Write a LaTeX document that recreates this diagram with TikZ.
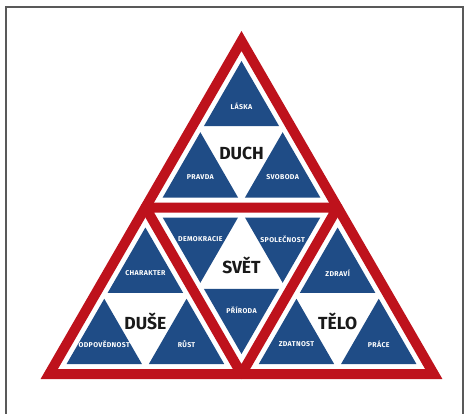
\documentclass[tikz,border=0pt]{standalone}
\usepackage{fontspec}
\setmainfont{Fira Sans}
\usepackage{tikz}
\usetikzlibrary{calc}
\definecolor{pyrred}{RGB}{190,18,28}
\definecolor{pyrblue}{RGB}{31,76,134}
% one blue corner triangle: #1 x, #2 y of its centre, #3 = 1 up, -1 down
\newcommand{\cornertri}[3]{%
  \fill[blue tri] ({#1},{#2-(#3)*43.5}) -- ({#1-37.67},{#2+(#3)*21.75})
    -- ({#1+37.67},{#2+(#3)*21.75}) -- cycle;}

\begin{document}
\begin{tikzpicture}[x=1pt,y=-1pt,
    red line/.style={draw=pyrred,line width=10pt},
    blue tri/.style={fill=pyrblue},
    small label/.style={text=white,font=\fontsize{7}{7}\selectfont\bfseries\addfontfeatures{LetterSpace=5},inner sep=0pt},
    big label/.style={text=black!90,font=\fontsize{17.5}{17.5}\selectfont\bfseries,inner sep=0pt}]
  \useasboundingbox (0,0) rectangle (468,414);
  \draw[line width=1.3pt,color=black!65] (6,414) -- (6,7) -- (463,7) -- (463,414);

  \coordinate (A) at (241.5,41);
  \coordinate (B) at (49.25,374);
  \coordinate (C) at (433.75,374);
  \coordinate (P) at (145.4,207.5);
  \coordinate (Q) at (337.6,207.5);
  \coordinate (R) at (241.5,374);

  % red frame
  \draw[red line,line join=miter] (A) -- (B) -- (C) -- cycle;
  \draw[red line,line join=round] (P) -- (Q) -- (R) -- cycle;

  % DUCH
  \cornertri{241.5}{104.5}{1}
  \cornertri{200.36}{175.75}{1}
  \cornertri{282.64}{175.75}{1}
  \node[big label] (duch) at (241.5,153) {DUCH};
  \node[small label] (laska) at (241.5,106) {LÁSKA};
  \node[small label] (pravda) at (200.36,177) {PRAVDA};
  \node[small label] (svoboda) at (282.64,177) {SVOBODA};

  % DUŠE
  \cornertri{145.4}{271}{1}
  \cornertri{104.26}{342.25}{1}
  \cornertri{186.54}{342.25}{1}
  \node[big label] (duse) at (145.4,321) {DUŠE};
  \node[small label] (charakter) at (145.4,273.5) {CHARAKTER};
  \node[small label] (odpovednost) at (104.26,344.5) {ODPOVĚDNOST};
  \node[small label] (rust) at (186.54,344.5) {RŮST};

  % TĚLO
  \cornertri{337.6}{271}{1}
  \cornertri{296.46}{342.25}{1}
  \cornertri{378.74}{342.25}{1}
  \node[big label] (telo) at (337.6,321) {TĚLO};
  \node[small label] (zdravi) at (337.6,273.5) {ZDRAVÍ};
  \node[small label] (zdatnost) at (296.46,344.5) {ZDATNOST};
  \node[small label] (prace) at (378.74,344.5) {PRÁCE};

  % SVĚT
  \cornertri{241.5}{310.5}{-1}
  \cornertri{200.36}{239.25}{-1}
  \cornertri{282.64}{239.25}{-1}
  \node[big label] (svet) at (241.5,265.5) {SVĚT};
  \node[small label] (priroda) at (241.5,310) {PŘÍRODA};
  \node[small label] (demokracie) at (200.36,239) {DEMOKRACIE};
  \node[small label] (spolecnost) at (282.64,239) {SPOLEČNOST};
\end{tikzpicture}
\end{document}
